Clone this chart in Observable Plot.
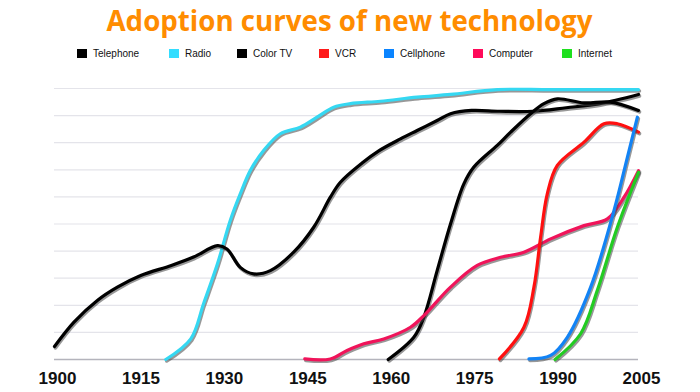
<!DOCTYPE html>
<html>
<head>
<meta charset="utf-8">
<script src="https://cdn.jsdelivr.net/npm/d3@7"></script>
<script src="https://cdn.jsdelivr.net/npm/@observablehq/plot@0.6"></script>
<style>
  html, body { margin: 0; padding: 0; background: #fff; }
  #wrap { width: 700px; height: 392px; position: relative; overflow: hidden; }
  #title { position: absolute; top: 0; left: 0; width: 700px; text-align: center;
    font-family: "Open Sans", Lato, sans-serif; font-weight: 700; font-size: 29px;
    color: #ff8c00; line-height: 40px; white-space: nowrap; }
  #title span { display: inline-block; transform-origin: center; }
  #legend { position: absolute; top: 46px; left: 0; width: 700px; height: 14px;
    font-family: "Liberation Sans", Arial, sans-serif; font-size: 10px; color: #111; }
  .item { position: absolute; top: 0; height: 14px; display: flex; align-items: center; }
  .sw { width: 10px; height: 9px; margin-right: 6px; }
  #chart { position: absolute; top: 65px; left: 0; }
</style>
</head>
<body>
<div id="wrap">
  <div id="title"><span id="titleText">Adoption curves of new technology</span></div>
  <div id="legend"></div>
  <div id="chart"></div>
</div>
<script>
// ---- data ----
const seriesNames = ["Telephone", "Radio", "Color TV", "VCR", "Cellphone", "Computer", "Internet"];
const seriesColors = ["#000000", "#35d8f2", "#000000", "#ff1010", "#1283f5", "#f0145a", "#22cc22"];
const legendColors = ["#000000", "#33ddff", "#000000", "#ff1a1a", "#0a84ff", "#ff0a5a", "#1ee01e"];
const xTicks = [1900, 1915, 1930, 1945, 1960, 1975, 1990, 2005];

const telephoneYears  = [1900, 1903.5, 1907.7, 1911.3, 1915.5, 1921, 1925, 1929.3, 1931, 1933.4, 1935.8, 1938.8, 1943, 1946.6, 1949.6, 1951.4, 1955.3, 1958.3, 1962.2, 1965.2, 1968.8, 1971.2, 1975, 1980, 1986, 1992, 1998, 2005];
const telephoneValues = [4.8, 13.8, 21.8, 26.7, 31, 34.7, 37.8, 42, 40.8, 34, 31.6, 32.8, 39.6, 48.8, 59.9, 65.4, 72.5, 77, 81.4, 84.5, 88.2, 90.7, 91.9, 91.6, 91.6, 92.9, 94.4, 97.8];

const radioYears  = [1920, 1924.5, 1926.8, 1929.3, 1931.6, 1933.4, 1935.2, 1937.6, 1940.6, 1944.2, 1947.2, 1950.2, 1953.2, 1958.6, 1965.2, 1971.2, 1979.6, 1989.2, 2005];
const radioValues = [0, 7.6, 20.6, 35.3, 51.3, 61.1, 69.7, 77.1, 83.3, 85.7, 89.4, 93.1, 94.4, 95.3, 96.8, 97.8, 99.6, 99.6, 99.6];

const colorTvYears  = [1960, 1964.6, 1966.4, 1968.8, 1971.2, 1973.6, 1975.4, 1979.6, 1982, 1985.6, 1988, 1990.4, 1995.2, 2000, 2005];
const colorTvValues = [0, 8.2, 15.6, 32.8, 50, 64.8, 71, 79, 83.9, 90.7, 94.4, 96.2, 94.7, 95, 91.9];

const vcrYears  = [1980, 1984.4, 1986.2, 1987.4, 1988.6, 1990.4, 1995.2, 1998.8, 2001.2, 2005];
const vcrValues = [0.2, 11.9, 26.7, 45.1, 61.1, 71.6, 80.2, 87, 87, 83.9];

const cellphoneYears  = [1985.3, 1989.2, 1992.2, 1996.4, 2000.6, 2003, 2004.8];
const cellphoneValues = [0.2, 1.5, 8.2, 26.7, 55, 74.6, 89.4];

const computerYears  = [1945, 1949.6, 1952.6, 1955.6, 1959.2, 1964, 1966.4, 1971.2, 1976, 1980.2, 1984.4, 1989.2, 1995.2, 1999.4, 2002.4, 2005];
const computerValues = [0.2, 0.2, 3.3, 5.8, 7.6, 11.9, 16.2, 26.7, 34.7, 37.7, 39.6, 44.5, 49.4, 51.9, 59.9, 69.7];

const internetYears  = [1990, 1994.6, 1997.6, 2001.2, 2005];
const internetValues = [0, 9.5, 25.5, 48.8, 69.1];

const gridValues = [10, 20, 30, 40, 50, 60, 70, 80, 90, 100];

// ---- build table ----
const seriesData = {
  "Telephone": [telephoneYears, telephoneValues],
  "Radio": [radioYears, radioValues],
  "Color TV": [colorTvYears, colorTvValues],
  "VCR": [vcrYears, vcrValues],
  "Cellphone": [cellphoneYears, cellphoneValues],
  "Computer": [computerYears, computerValues],
  "Internet": [internetYears, internetValues]
};
const drawOrder = ["Radio", "Telephone", "Color TV", "Computer", "VCR", "Cellphone", "Internet"];

// title width fit
const tt = document.getElementById("titleText");
const tw = tt.getBoundingClientRect().width;
if (tw > 0) tt.style.transform = `scaleX(${486 / tw})`;

// legend
const legend = document.getElementById("legend");
const legendX = [77, 169, 237, 319, 384, 473, 562];
seriesNames.forEach((n, i) => {
  const it = document.createElement("div");
  it.className = "item";
  it.style.left = legendX[i] + "px";
  it.innerHTML = `<span class="sw" style="background:${legendColors[i]}"></span><span>${n}</span>`;
  legend.appendChild(it);
});

const marks = [
  Plot.ruleY(gridValues, {stroke: "#e4e4ea", strokeWidth: 1.2}),
  Plot.ruleY([0], {stroke: "#b4b4bc", strokeWidth: 1.5})
];
for (const name of drawOrder) {
  const [xs, ys] = seriesData[name];
  const rows = xs.map((x, i) => ({year: x, value: ys[i]}));
  const color = seriesColors[seriesNames.indexOf(name)];
  marks.push(Plot.line(rows, {x: "year", y: "value", curve: "catmull-rom", stroke: "#444", strokeOpacity: 0.55, strokeWidth: 3.5, dx: 1, dy: 1.5}));
  marks.push(Plot.line(rows, {x: "year", y: "value", curve: "catmull-rom", stroke: color, strokeWidth: 3.2}));
}
marks.push(Plot.axisX({ticks: xTicks, tickSize: 0, tickPadding: 12, dx: 3, tickFormat: d => String(d), fontSize: 17, fontWeight: "bold", fill: "#111", label: null}));

const chart = Plot.plot({
  width: 700,
  height: 327,
  marginTop: 23,
  marginBottom: 33,
  marginLeft: 54,
  marginRight: 62,
  x: {domain: [1900, 2005]},
  y: {domain: [0, 100], axis: null},
  style: {fontFamily: "'Liberation Sans', Arial, sans-serif", background: "#fff", overflow: "visible"},
  marks
});
document.getElementById("chart").appendChild(chart);
</script>
</body>
</html>
